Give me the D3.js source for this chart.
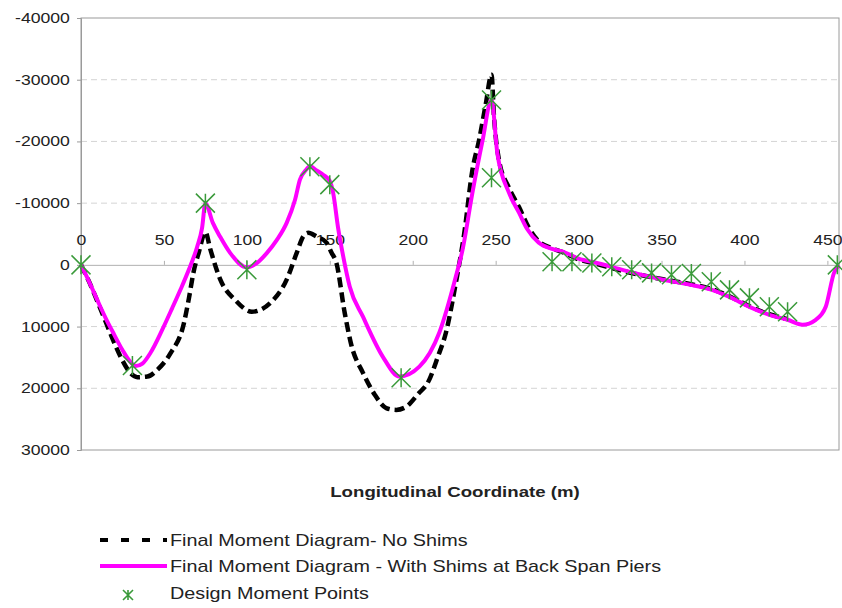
<!DOCTYPE html>
<html>
<head>
<meta charset="utf-8">
<script src="https://cdn.jsdelivr.net/npm/d3@7"></script>
<style>
  body { margin: 0; background: #fff; }
  text { font-family: "Liberation Sans", Arial, sans-serif; fill: #222; }
</style>
</head>
<body>
<div id="chart"></div>
<script>
// values
const xTicks = [0, 50, 100, 150, 200, 250, 300, 350, 400, 450];
const yTicks = [-40000, -30000, -20000, -10000, 0, 10000, 20000, 30000];

// Final Moment Diagram - No Shims
const noShimsX = [0, 5, 10, 15, 20, 25, 30, 34, 40, 46, 54, 62, 65, 68, 71, 75,
  78, 84, 93, 103, 114, 124, 130, 134, 137, 142, 148, 151, 154, 159, 163, 170, 177,
  184, 190, 196, 203, 210, 215, 220, 226, 231, 236, 240, 244, 247.5,
  249, 252, 258, 264, 270, 276, 284, 290, 300, 310, 330, 350, 367, 380, 391, 403, 415, 426];
const noShimsY = [0, 2800, 6000, 9300, 12600, 15500, 17600, 18200, 18100, 17000, 14300, 9500, 5500, 1000, -2000, -5300,
  -2500, 2400, 5700, 7600, 6200, 2400, -1900, -4600, -5200, -4600, -3600, -2000, -300, 7800, 13000, 17500, 21000,
  23200, 23500, 23000, 21000, 18600, 15000, 11000, 2900, -5000, -15400, -20200, -26000, -30800,
  -24000, -17000, -12500, -9400, -6000, -3800, -2700, -2100, -900, -200, 1200, 2300, 3100, 3900, 5100, 6700, 8000, 8800];

// Final Moment Diagram - With Shims at Back Span Piers
const shimsX = [0, 5, 10, 15, 20, 25, 30, 33, 37, 42, 49, 55, 60, 65, 70, 73, 75,
  79.5, 84, 90, 100, 106, 112, 118, 124, 129, 132, 136, 138, 142, 146, 150, 152, 155, 158, 162,
  170, 182, 192, 204, 216, 226, 230, 236, 242, 247.5, 251, 258, 264, 269, 276, 284, 290, 300, 311,
  331, 351, 367, 380, 391, 403, 415, 426, 435, 443, 449, 454, 457];
const shimsY = [0, 2800, 5800, 8700, 11300, 13800, 15800, 16400, 16000, 14200, 10500, 7000, 4000, 800, -2900, -6000, -10000,
  -6800, -4500, -1900, 400, -300, -1900, -4000, -6800, -10500, -13800, -15500, -16000, -15300, -14600, -13600, -11700, -6000, -1500, 3500,
  8400, 14900, 18100, 16500, 11000, 1900, -2400, -11700, -20000, -26700, -18100, -11700, -8500, -5800, -3600, -2600, -2200, -1000, -300,
  1130, 2400, 3200, 4000, 5200, 6800, 8100, 8900, 9700, 8900, 6800, 1300, 0];

// Design Moment Points
const designX = [0, 31, 75, 100, 138, 150, 193, 247.5, 247.5, 284, 296, 308, 320, 332, 344,
  356, 368, 380, 391, 403, 415, 426, 456];
const designY = [0, 16300, -10000, 800, -15900, -13000, 18300, -26700, -14100, -500, -500, -300, 300, 800, 1300,
  1600, 1400, 2750, 4050, 5350, 6800, 7600, 0];

const legendLabels = [
  'Final Moment Diagram- No Shims',
  'Final Moment Diagram - With Shims at Back Span Piers',
  'Design Moment Points'
];

const WIDTH = 842;
const HEIGHT = 608;
const SX = 1.26; // text in the reference is stretched sideways
const GREEN = '#3a9a3a';

const svg = d3.select('#chart')
  .append('svg')
  .attr('width', WIDTH)
  .attr('height', HEIGHT);

const x = d3.scaleLinear().domain([0, 457]).range([81, 839]);
const y = d3.scaleLinear().domain([-40000, 30000]).range([18, 450]);

// dashed gridlines
svg.append('g')
  .selectAll('line')
  .data(yTicks.filter(d => d !== 0 && d !== -40000 && d !== 30000))
  .enter()
  .append('line')
  .attr('x1', x.range()[0])
  .attr('x2', x.range()[1])
  .attr('y1', d => y(d))
  .attr('y2', d => y(d))
  .attr('stroke', '#d4d4d4')
  .attr('stroke-dasharray', '6,4');

// plot frame
svg.append('rect')
  .attr('x', x.range()[0])
  .attr('y', y.range()[0])
  .attr('width', x.range()[1] - x.range()[0])
  .attr('height', y.range()[1] - y.range()[0])
  .attr('fill', 'none')
  .attr('stroke', '#9a9a9a');

// y axis
const yAxis = svg.append('g')
  .attr('transform', `translate(${x(0)},0)`)
  .call(d3.axisLeft(y).tickValues(yTicks).tickSize(4).tickPadding(4.8).tickFormat(d => String(d)));
yAxis.select('.domain').attr('stroke', '#9a9a9a');
yAxis.selectAll('.tick line').attr('stroke', '#9a9a9a');
yAxis.selectAll('text')
  .attr('transform', `scale(${SX},1)`)
  .style('font-size', '14px')
  .attr('fill', '#222');

// x axis crosses at zero
const xAxis = svg.append('g')
  .attr('transform', `translate(0,${y(0)})`)
  .call(d3.axisTop(x).tickValues(xTicks).tickSize(4).tickPadding(16));
xAxis.select('.domain').attr('stroke', '#b0b0b0');
xAxis.selectAll('.tick line').attr('stroke', '#b0b0b0');
xAxis.selectAll('text')
  .attr('transform', `scale(${SX},1)`)
  .style('font-size', '14px')
  .attr('fill', '#222');

// axis title
svg.append('text')
  .attr('transform', `translate(455,497) scale(${SX},1)`)
  .attr('text-anchor', 'middle')
  .style('font-size', '14.8px')
  .style('font-weight', 'bold')
  .text('Longitudinal Coordinate (m)');

const line = d3.line()
  .x(d => x(d[0]))
  .y(d => y(d[1]))
  .curve(d3.curveMonotoneX);

svg.append('path')
  .datum(d3.zip(noShimsX, noShimsY))
  .attr('d', line)
  .attr('fill', 'none')
  .attr('stroke', '#000')
  .attr('stroke-width', 4.5)
  .attr('stroke-dasharray', '10,5');

svg.append('path')
  .datum(d3.zip(shimsX, shimsY))
  .attr('d', line)
  .attr('fill', 'none')
  .attr('stroke', '#ff00ff')
  .attr('stroke-width', 4);

// asterisk marker: an X with a vertical bar
function star(s) {
  return `M${-s},${-s}L${s},${s}M${-s},${s}L${s},${-s}M0,${-s}L0,${s}`;
}

svg.append('g')
  .selectAll('path')
  .data(d3.zip(designX, designY))
  .enter()
  .append('path')
  .attr('transform', d => `translate(${x(d[0])},${y(d[1])})`)
  .attr('d', star(9.5))
  .attr('fill', 'none')
  .attr('stroke', GREEN)
  .attr('stroke-width', 1.5);

// legend
const LEG_X = 100;
const LEG_W = 67;
const legRows = [540, 566, 593];
const legend = svg.append('g');

legend.append('line')
  .attr('x1', LEG_X).attr('x2', LEG_X + LEG_W)
  .attr('y1', legRows[0]).attr('y2', legRows[0])
  .attr('stroke', '#000')
  .attr('stroke-width', 4)
  .attr('stroke-dasharray', '8,13');

legend.append('line')
  .attr('x1', LEG_X).attr('x2', LEG_X + LEG_W)
  .attr('y1', legRows[1]).attr('y2', legRows[1])
  .attr('stroke', '#ff00ff')
  .attr('stroke-width', 4);

legend.append('path')
  .attr('transform', `translate(128,${legRows[2] + 2})`)
  .attr('d', star(5))
  .attr('fill', 'none')
  .attr('stroke', GREEN)
  .attr('stroke-width', 1.6);

legend.selectAll('text')
  .data(legendLabels)
  .enter()
  .append('text')
  .attr('transform', (d, i) => `translate(${LEG_X + LEG_W + 3},${legRows[i] + 5.5}) scale(${SX},1)`)
  .style('font-size', '15.7px')
  .text(d => d);
</script>
</body>
</html>
